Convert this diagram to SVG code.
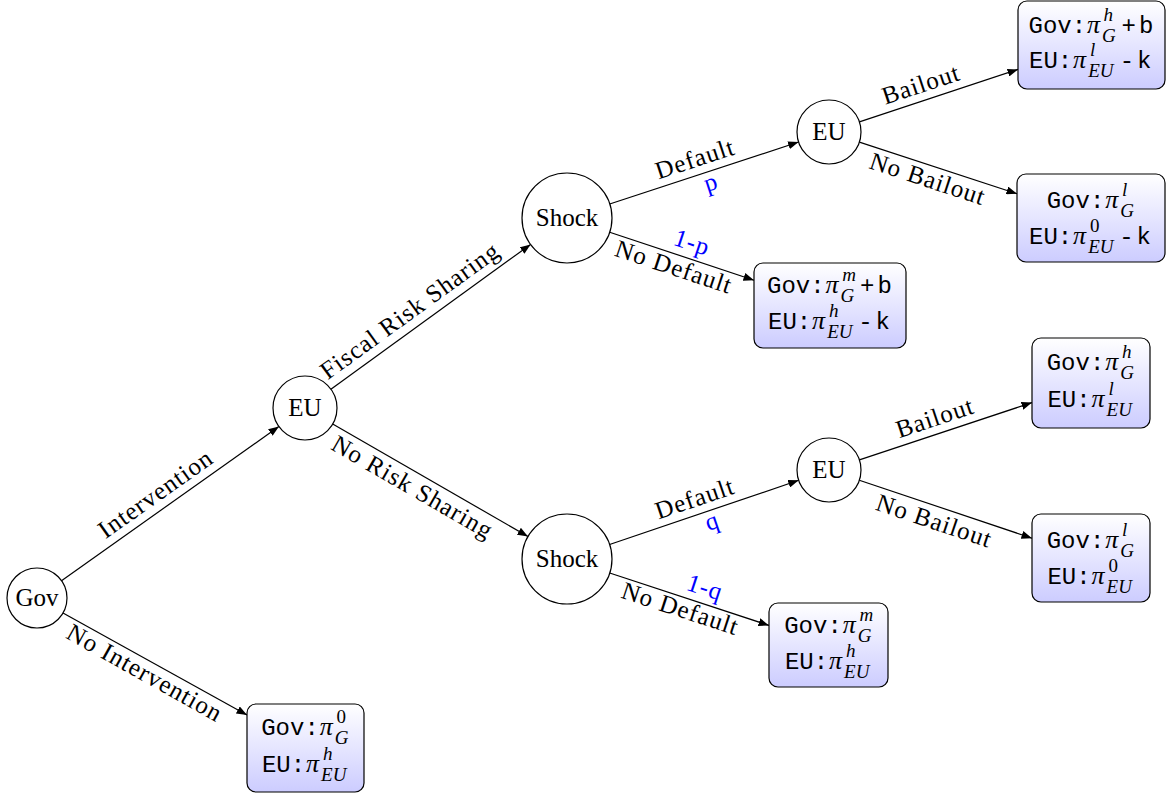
<svg xmlns="http://www.w3.org/2000/svg" width="1167" height="794" viewBox="0 0 1167 794">
<style>
.nd circle{fill:#fff;stroke:#000;stroke-width:1.2}
.nt{font-family:'Liberation Serif',serif;font-size:25px;text-anchor:middle}
.box rect{fill:url(#bg);stroke:#000;stroke-width:1.2}
.mono{font-family:'Liberation Mono',monospace;font-size:24px}
.pi{font-family:'Liberation Serif',serif;font-style:italic;font-size:26px}
.scr{font-family:'Liberation Serif',serif;font-style:italic;font-size:19px}
.up{font-style:normal}
.edges line{stroke:#000;stroke-width:1.2;marker-end:url(#ah)}
.lbl{font-family:'Liberation Serif',serif;font-size:25px;letter-spacing:1px;text-anchor:middle}
.blue{fill:#0000ff}
</style>
<defs>
<linearGradient id="bg" x1="0" y1="0" x2="0" y2="1"><stop offset="0" stop-color="#ffffff"/><stop offset="1" stop-color="#ccccff"/></linearGradient>
<marker id="ah" markerUnits="userSpaceOnUse" markerWidth="11" markerHeight="8" refX="10.5" refY="4" orient="auto"><path d="M0,0 L10.5,4 L0,8 z" fill="#000"/></marker>
</defs>
<g class="edges">
<line x1="61.5" y1="580.7" x2="278.9" y2="426.5"/>
<line x1="63" y1="613" x2="247" y2="715"/>
<line x1="330.9" y1="389.2" x2="530.6" y2="244.4"/>
<line x1="332.7" y1="424" x2="528" y2="536.5"/>
<line x1="609.7" y1="204" x2="798.6" y2="142"/>
<line x1="609.7" y1="232.2" x2="754" y2="280.2"/>
<line x1="859.4" y1="121.9" x2="1018" y2="69.4"/>
<line x1="859.4" y1="142.1" x2="1017" y2="193.7"/>
<line x1="609.6" y1="544.5" x2="798.7" y2="480.3"/>
<line x1="609.7" y1="573" x2="769" y2="625.4"/>
<line x1="859.4" y1="459.9" x2="1032" y2="402.6"/>
<line x1="859.3" y1="480.2" x2="1032" y2="538.2"/>
</g>
<g id="edge-labels">
<g transform="translate(165,507) rotate(-35.3)"><text class="lbl" y="-8">Intervention</text></g>
<g transform="translate(151,661.7) rotate(29.2)"><text class="lbl" y="21">No Intervention</text></g>
<g transform="translate(420,324.6) rotate(-35.9)"><text class="lbl" y="-9">Fiscal Risk Sharing</text></g>
<g transform="translate(420,474.3) rotate(30)"><text class="lbl" y="23">No Risk Sharing</text></g>
<g transform="translate(700,174.3) rotate(-18.2)"><text class="lbl" y="-8">Default</text><text class="lbl blue" x="8" y="19">p</text></g>
<g transform="translate(687,257.9) rotate(18.4)"><text class="lbl blue" y="-8">1-p</text></g>
<g transform="translate(678,254.9) rotate(18.4)"><text class="lbl" y="21">No Default</text></g>
<g transform="translate(926,99.7) rotate(-18.3)"><text class="lbl" y="-8">Bailout</text></g>
<g transform="translate(932,165.8) rotate(18.2)"><text class="lbl" y="22">No Bailout</text></g>
<g transform="translate(700,513.8) rotate(-18.8)"><text class="lbl" y="-8">Default</text><text class="lbl blue" x="9" y="19">q</text></g>
<g transform="translate(700,602.7) rotate(18.2)"><text class="lbl blue" y="-8">1-q</text></g>
<g transform="translate(684,597.5) rotate(18.2)"><text class="lbl" y="20">No Default</text></g>
<g transform="translate(940,433.1) rotate(-18.4)"><text class="lbl" y="-8">Bailout</text></g>
<g transform="translate(939,507) rotate(18.6)"><text class="lbl" y="23">No Bailout</text></g>
</g>
<g id="gov" class="nd"><circle cx="37" cy="598" r="30"/><text class="nt" x="37" y="606">Gov</text></g>
<g id="eu1" class="nd"><circle cx="305" cy="408" r="32"/><text class="nt" x="305" y="416">EU</text></g>
<g id="shock1" class="nd"><circle cx="567" cy="218" r="45"/><text class="nt" x="567" y="226">Shock</text></g>
<g id="shock2" class="nd"><circle cx="567" cy="559" r="45"/><text class="nt" x="567" y="567">Shock</text></g>
<g id="eu2" class="nd"><circle cx="829" cy="132" r="32"/><text class="nt" x="829" y="140">EU</text></g>
<g id="eu3" class="nd"><circle cx="829" cy="470" r="32"/><text class="nt" x="829" y="478">EU</text></g>

<g id="boxA" class="box"><rect x="1018" y="1" width="147" height="88" rx="9"/>
<text class="mono" x="1028.5" y="33">Gov:</text><text class="pi" x="1087" y="33">π</text><text class="scr" x="1103.6" y="21">h</text><text class="scr" x="1102" y="42">G</text><text class="mono" x="1121.5" y="33">+</text><text class="mono" x="1139" y="33">b</text>
<text class="mono" x="1029" y="68">EU:</text><text class="pi" x="1073" y="68">π</text><text class="scr" x="1090" y="56">l</text><text class="scr" x="1088.2" y="77">EU</text><text class="mono" x="1119.7" y="68">-</text><text class="mono" x="1137.1" y="68">k</text>
</g>
<g id="boxB" class="box"><rect x="1017" y="174" width="148" height="88" rx="9"/>
<text class="mono" x="1046.7" y="208">Gov:</text><text class="pi" x="1105.3" y="208">π</text><text class="scr" x="1122" y="196">l</text><text class="scr" x="1120.3" y="217">G</text>
<text class="mono" x="1029" y="244">EU:</text><text class="pi" x="1073" y="244">π</text><text class="scr up" x="1090" y="232">0</text><text class="scr" x="1088.2" y="253">EU</text><text class="mono" x="1119.2" y="244">-</text><text class="mono" x="1136.6" y="244">k</text>
</g>
<g id="boxC" class="box"><rect x="754" y="263" width="152" height="85" rx="9"/>
<text class="mono" x="767" y="293">Gov:</text><text class="pi" x="825.6" y="293">π</text><text class="scr" x="842.2" y="281">m</text><text class="scr" x="840.6" y="302">G</text><text class="mono" x="860" y="293">+</text><text class="mono" x="877.5" y="293">b</text>
<text class="mono" x="768" y="329">EU:</text><text class="pi" x="812" y="329">π</text><text class="scr" x="829" y="317">h</text><text class="scr" x="827.2" y="338">EU</text><text class="mono" x="858.2" y="329">-</text><text class="mono" x="875.6" y="329">k</text>
</g>
<g id="boxD" class="box"><rect x="1032" y="338" width="118" height="90" rx="9"/>
<text class="mono" x="1046.7" y="370">Gov:</text><text class="pi" x="1105.3" y="370">π</text><text class="scr" x="1122" y="358">h</text><text class="scr" x="1120.3" y="379">G</text>
<text class="mono" x="1047.4" y="407">EU:</text><text class="pi" x="1091.4" y="407">π</text><text class="scr" x="1108.4" y="395">l</text><text class="scr" x="1106.6" y="416">EU</text>
</g>
<g id="boxE" class="box"><rect x="1032" y="514" width="118" height="88" rx="9"/>
<text class="mono" x="1046.7" y="548">Gov:</text><text class="pi" x="1105.3" y="548">π</text><text class="scr" x="1122" y="536">l</text><text class="scr" x="1120.3" y="557">G</text>
<text class="mono" x="1047.4" y="584">EU:</text><text class="pi" x="1091.4" y="584">π</text><text class="scr up" x="1108.4" y="572">0</text><text class="scr" x="1106.6" y="593">EU</text>
</g>
<g id="boxF" class="box"><rect x="769" y="603" width="119" height="84" rx="9"/>
<text class="mono" x="784.2" y="633">Gov:</text><text class="pi" x="842.8" y="633">π</text><text class="scr" x="859.5" y="621">m</text><text class="scr" x="857.8" y="642">G</text>
<text class="mono" x="784.9" y="669">EU:</text><text class="pi" x="828.9" y="669">π</text><text class="scr" x="845.9" y="657">h</text><text class="scr" x="844.1" y="678">EU</text>
</g>
<g id="boxG" class="box"><rect x="247" y="704" width="117" height="88" rx="9"/>
<text class="mono" x="261.2" y="735">Gov:</text><text class="pi" x="319.8" y="735">π</text><text class="scr up" x="336.5" y="723">0</text><text class="scr" x="334.8" y="744">G</text>
<text class="mono" x="261.9" y="772">EU:</text><text class="pi" x="305.9" y="772">π</text><text class="scr" x="322.9" y="760">h</text><text class="scr" x="321.1" y="781">EU</text>
</g>
</svg>
